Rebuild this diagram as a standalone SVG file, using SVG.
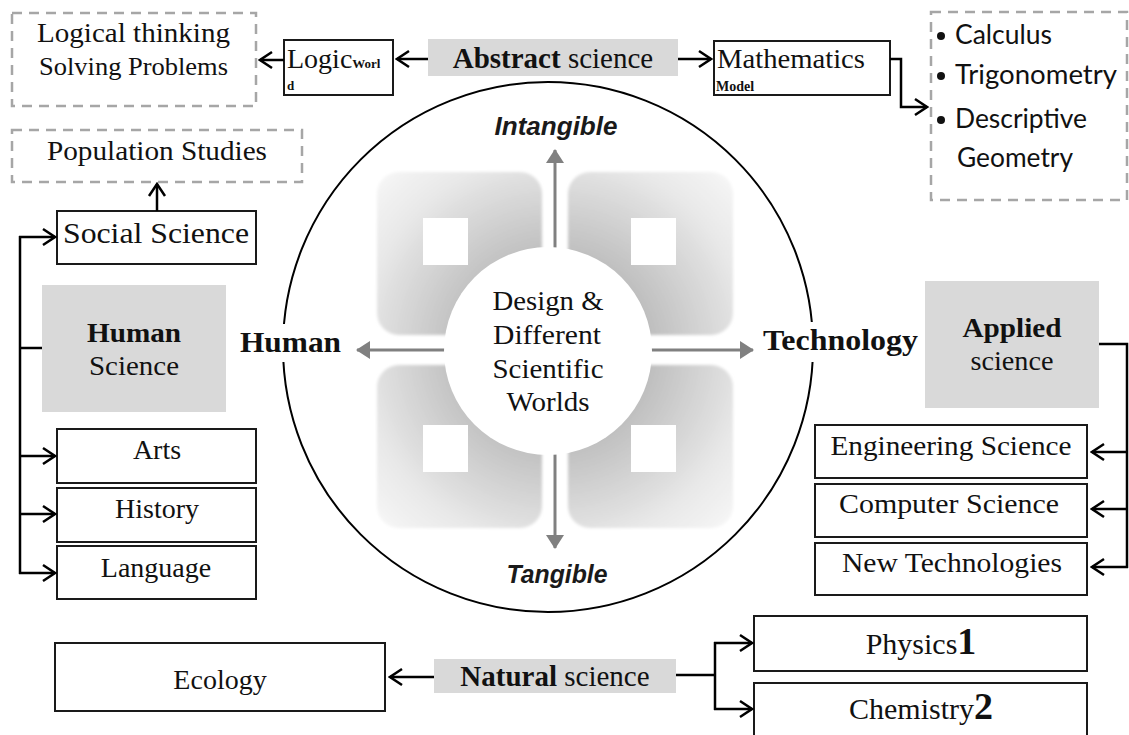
<svg xmlns="http://www.w3.org/2000/svg" width="1129" height="735" viewBox="0 0 1129 735">
<style>
.serif{font-family:"Liberation Serif","Times New Roman",serif;fill:#111;}
.sans{font-family:Lato,"Liberation Sans",sans-serif;fill:#111;}
.box{fill:#fff;stroke:#1a1a1a;stroke-width:2;}
.gbox{fill:#d9d9d9;stroke:none;}
.dash{fill:none;stroke:#a6a6a6;stroke-width:2.5;stroke-dasharray:10 7;}
.con{fill:none;stroke:#000;stroke-width:2.5;}
.gray{fill:none;stroke:#808080;stroke-width:3;}
.b{font-weight:bold;}
</style>
<defs>
<marker id="chev" viewBox="-15 -10 17 20" refX="0" refY="0" markerWidth="17" markerHeight="20" markerUnits="userSpaceOnUse" orient="auto">
<path d="M-12,-8 L0,0 L-12,8" fill="none" stroke="#000" stroke-width="2.5"/>
</marker>
<marker id="tri" viewBox="0 -9 14 18" refX="13" refY="0" markerWidth="14" markerHeight="18" markerUnits="userSpaceOnUse" orient="auto">
<path d="M0,-9 L14,0 L0,9 z" fill="#808080"/>
</marker>
<radialGradient id="sq" gradientUnits="userSpaceOnUse" cx="555" cy="350" r="260">
<stop offset="0.35" stop-color="#bcbcbc"/>
<stop offset="0.75" stop-color="#e8e8e8"/>
<stop offset="1" stop-color="#fafafa"/>
</radialGradient>
<filter id="soft" x="-10%" y="-10%" width="120%" height="120%"><feGaussianBlur stdDeviation="1.5"/></filter>
</defs>
<rect width="1129" height="735" fill="#fff"/>

<!-- central circle diagram -->
<g id="circle">
<circle cx="548" cy="347" r="265" fill="#fff" stroke="#000" stroke-width="2"/>
<g filter="url(#soft)">
<rect x="377" y="172" width="165" height="163" rx="22" fill="url(#sq)"/>
<rect x="568" y="172" width="165" height="163" rx="22" fill="url(#sq)"/>
<rect x="377" y="365" width="165" height="163" rx="22" fill="url(#sq)"/>
<rect x="568" y="365" width="165" height="163" rx="22" fill="url(#sq)"/>
</g>
<rect x="423" y="218" width="45" height="47" fill="#fff"/>
<rect x="631" y="218" width="45" height="47" fill="#fff"/>
<rect x="423" y="425" width="45" height="47" fill="#fff"/>
<rect x="631" y="425" width="45" height="47" fill="#fff"/>
<line class="gray" x1="555" y1="250" x2="555" y2="150" marker-end="url(#tri)"/>
<line class="gray" x1="555" y1="452" x2="555" y2="548" marker-end="url(#tri)"/>
<line class="gray" x1="446" y1="350" x2="357" y2="350" marker-end="url(#tri)"/>
<line class="gray" x1="650" y1="350" x2="753" y2="350" marker-end="url(#tri)"/>
<circle cx="548" cy="351" r="104" fill="#fff"/>
<g class="serif" font-size="28" text-anchor="middle">
<text x="548" y="310" textLength="111" lengthAdjust="spacingAndGlyphs">Design &amp;</text>
<text x="547" y="344" textLength="108" lengthAdjust="spacingAndGlyphs">Different</text>
<text x="548" y="378" textLength="111" lengthAdjust="spacingAndGlyphs">Scientific</text>
<text x="548" y="411" textLength="83" lengthAdjust="spacingAndGlyphs">Worlds</text>
</g>
<g font-family="'Liberation Sans',Arial,sans-serif" font-weight="bold" font-style="italic" font-size="26" fill="#1a1a1a" text-anchor="middle">
<text x="556" y="135" textLength="123" lengthAdjust="spacingAndGlyphs">Intangible</text>
<text x="557" y="583" textLength="101" lengthAdjust="spacingAndGlyphs">Tangible</text>
</g>
<rect x="238" y="324" width="106" height="38" fill="#fff"/>
<rect x="760" y="322" width="161" height="40" fill="#fff"/>
<text class="serif b" x="240" y="352" font-size="30" textLength="101" lengthAdjust="spacingAndGlyphs">Human</text>
<text class="serif b" x="763" y="350" font-size="30" textLength="155" lengthAdjust="spacingAndGlyphs">Technology</text>
</g>

<!-- top row -->
<g id="logical-thinking">
<rect class="dash" x="12" y="13" width="244" height="93"/>
<text class="serif" x="133.5" y="42" font-size="28" text-anchor="middle" textLength="193" lengthAdjust="spacingAndGlyphs">Logical thinking</text>
<text class="serif" x="133.5" y="75" font-size="26" text-anchor="middle" textLength="189" lengthAdjust="spacingAndGlyphs">Solving Problems</text>
</g>
<g id="logic">
<rect class="box" x="284" y="40" width="109" height="55"/>
<text class="serif" x="287" y="68" font-size="28">Logic<tspan class="b" font-size="13">Worl</tspan></text>
<text class="serif b" x="287" y="90" font-size="13">d</text>
</g>
<g id="abstract">
<rect class="gbox" x="428" y="39" width="250" height="37"/>
<text class="serif" x="553" y="68" font-size="29" text-anchor="middle"><tspan class="b">Abstract</tspan> science</text>
</g>
<g id="mathematics">
<rect class="box" x="714" y="41" width="176" height="54"/>
<text class="serif" x="717" y="68" font-size="27" textLength="148" lengthAdjust="spacingAndGlyphs">Mathematics</text>
<text class="serif b" x="716" y="91" font-size="14">Model</text>
</g>
<g id="math-list">
<rect class="dash" x="931" y="12" width="196" height="188"/>
<circle cx="941" cy="36" r="4" fill="#111"/>
<circle cx="941" cy="76" r="4" fill="#111"/>
<circle cx="941" cy="120" r="4" fill="#111"/>
<g class="sans" font-size="26">
<text x="955" y="44" textLength="97" lengthAdjust="spacingAndGlyphs">Calculus</text>
<text x="955" y="84" textLength="162" lengthAdjust="spacingAndGlyphs">Trigonometry</text>
<text x="955" y="128" textLength="132" lengthAdjust="spacingAndGlyphs">Descriptive</text>
<text x="957" y="167" textLength="116" lengthAdjust="spacingAndGlyphs">Geometry</text>
</g>
</g>

<!-- left column -->
<g id="population">
<rect class="dash" x="12" y="130" width="290" height="52"/>
<text class="serif" x="157" y="160" font-size="28" text-anchor="middle" textLength="220" lengthAdjust="spacingAndGlyphs">Population Studies</text>
</g>
<g id="social">
<rect class="box" x="57" y="211" width="199" height="53"/>
<text class="serif" x="156" y="243" font-size="30" text-anchor="middle" textLength="186" lengthAdjust="spacingAndGlyphs">Social Science</text>
</g>
<g id="human-science">
<rect class="gbox" x="42" y="285" width="184" height="127"/>
<text class="serif b" x="134" y="342" font-size="28" text-anchor="middle" textLength="94" lengthAdjust="spacingAndGlyphs">Human</text>
<text class="serif" x="134" y="375" font-size="28" text-anchor="middle" textLength="90" lengthAdjust="spacingAndGlyphs">Science</text>
</g>
<g id="arts">
<rect class="box" x="57" y="429" width="199" height="54"/>
<text class="serif" x="157" y="459" font-size="28" text-anchor="middle">Arts</text>
</g>
<g id="history">
<rect class="box" x="57" y="488" width="199" height="54"/>
<text class="serif" x="157" y="518" font-size="28" text-anchor="middle">History</text>
</g>
<g id="language">
<rect class="box" x="57" y="546" width="199" height="53"/>
<text class="serif" x="156" y="577" font-size="28" text-anchor="middle">Language</text>
</g>

<!-- right column -->
<g id="applied">
<rect class="gbox" x="925" y="281" width="174" height="127"/>
<text class="serif b" x="1012" y="337" font-size="28" text-anchor="middle" textLength="99" lengthAdjust="spacingAndGlyphs">Applied</text>
<text class="serif" x="1012" y="370" font-size="28" text-anchor="middle" textLength="83" lengthAdjust="spacingAndGlyphs">science</text>
</g>
<g id="engineering">
<rect class="box" x="815" y="425" width="272" height="53"/>
<text class="serif" x="951" y="455" font-size="28" text-anchor="middle" textLength="241" lengthAdjust="spacingAndGlyphs">Engineering Science</text>
</g>
<g id="computer">
<rect class="box" x="815" y="484" width="272" height="53"/>
<text class="serif" x="949" y="513" font-size="28" text-anchor="middle" textLength="220" lengthAdjust="spacingAndGlyphs">Computer Science</text>
</g>
<g id="newtech">
<rect class="box" x="815" y="543" width="272" height="52"/>
<text class="serif" x="952" y="572" font-size="28" text-anchor="middle" textLength="220" lengthAdjust="spacingAndGlyphs">New Technologies</text>
</g>

<!-- bottom row -->
<g id="ecology">
<rect class="box" x="55" y="643" width="330" height="68"/>
<text class="serif" x="220" y="689" font-size="28" text-anchor="middle">Ecology</text>
</g>
<g id="natural">
<rect class="gbox" x="434" y="659" width="242" height="34"/>
<text class="serif" x="555" y="686" font-size="29" text-anchor="middle"><tspan class="b">Natural</tspan> science</text>
</g>
<g id="physics">
<rect class="box" x="754" y="616" width="333" height="55"/>
<text class="serif" x="921" y="654" font-size="30" text-anchor="middle">Physics<tspan class="b" font-size="38">1</tspan></text>
</g>
<g id="chemistry">
<rect class="box" x="754" y="683" width="333" height="70"/>
<text class="serif" x="921" y="719" font-size="30" text-anchor="middle">Chemistry<tspan class="b" font-size="38">2</tspan></text>
</g>

<!-- connectors -->
<g id="connectors">
<line class="con" x1="284" y1="60" x2="260" y2="60" marker-end="url(#chev)"/>
<line class="con" x1="428" y1="59" x2="397" y2="59" marker-end="url(#chev)"/>
<line class="con" x1="678" y1="59" x2="711" y2="59" marker-end="url(#chev)"/>
<polyline class="con" points="890,59 901,59 901,107 927,107" marker-end="url(#chev)"/>
<line class="con" x1="157" y1="211" x2="157" y2="184" marker-end="url(#chev)"/>
<line class="con" x1="20" y1="236" x2="20" y2="574"/>
<line class="con" x1="20" y1="348" x2="42" y2="348"/>
<line class="con" x1="19" y1="237" x2="55" y2="237" marker-end="url(#chev)"/>
<line class="con" x1="19" y1="456" x2="55" y2="456" marker-end="url(#chev)"/>
<line class="con" x1="19" y1="514" x2="55" y2="514" marker-end="url(#chev)"/>
<line class="con" x1="19" y1="573" x2="55" y2="573" marker-end="url(#chev)"/>
<polyline class="con" points="1099,344 1127,344 1127,568"/>
<line class="con" x1="1128" y1="452" x2="1092" y2="452" marker-end="url(#chev)"/>
<line class="con" x1="1128" y1="509" x2="1092" y2="509" marker-end="url(#chev)"/>
<line class="con" x1="1128" y1="567" x2="1092" y2="567" marker-end="url(#chev)"/>
<line class="con" x1="434" y1="677" x2="390" y2="677" marker-end="url(#chev)"/>
<line class="con" x1="676" y1="675" x2="715" y2="675"/>
<line class="con" x1="715" y1="642" x2="715" y2="710"/>
<line class="con" x1="714" y1="643" x2="752" y2="643" marker-end="url(#chev)"/>
<line class="con" x1="714" y1="709" x2="752" y2="709" marker-end="url(#chev)"/>
</g>
</svg>
